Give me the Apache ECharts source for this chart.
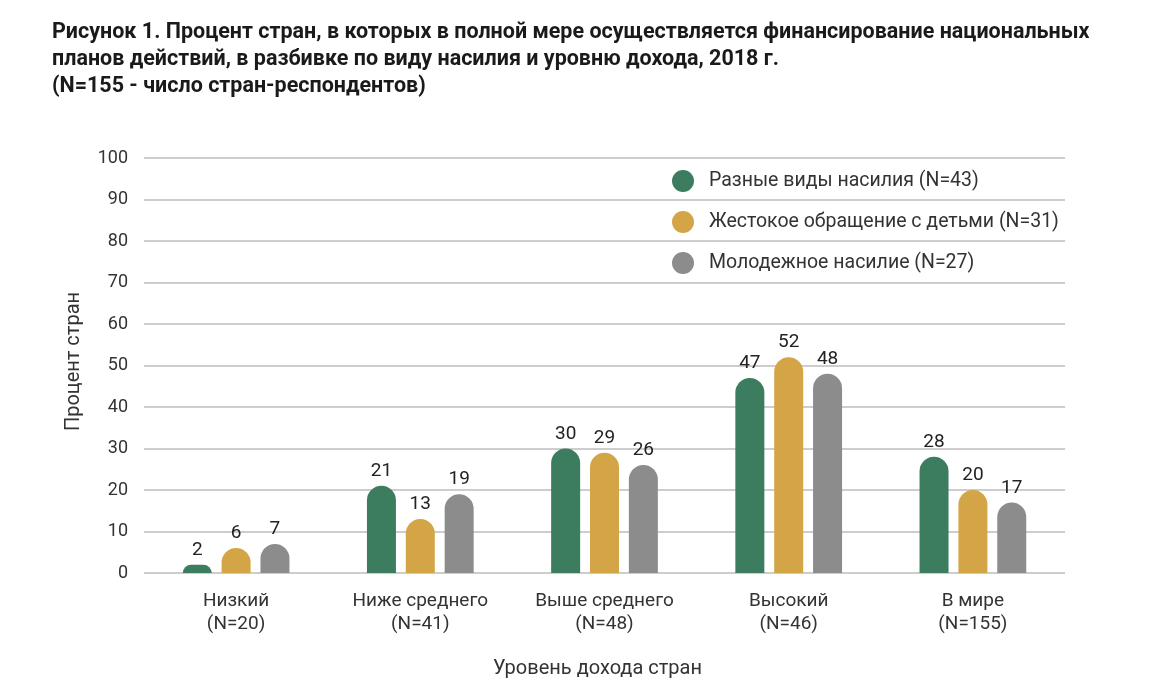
<!DOCTYPE html>
<html><head><meta charset="utf-8">
<script src="https://cdn.jsdelivr.net/npm/echarts@6/dist/echarts.min.js"></script>
<style>html,body{margin:0;padding:0;background:#fff}#c{width:1154px;height:692px}</style>
</head><body><div id="c"></div>
<script>
const categories = ['Низкий\n(N=20)', 'Ниже среднего\n(N=41)', 'Выше среднего\n(N=48)', 'Высокий\n(N=46)', 'В мире\n(N=155)'];
const seriesNames = ['Разные виды насилия (N=43)', 'Жестокое обращение с детьми (N=31)', 'Молодежное насилие (N=27)'];
const mixedViolence = [2, 21, 30, 47, 28];
const childMaltreatment = [6, 13, 29, 52, 20];
const youthViolence = [7, 19, 26, 48, 17];
const colors = ['#3d7d5f', '#d4a546', '#8c8c8c'];
const FONT = 'Roboto';
const chart = echarts.init(document.getElementById('c'));
const mk = (name, data, color) => ({
  name, type: 'bar', data, barWidth: 29, barGap: '34%',
  itemStyle: { color, borderRadius: [14.5, 14.5, 0, 0] },
  label: { show: true, position: 'top', distance: 5, fontFamily: FONT, fontSize: 19, color: '#222' }
});
chart.setOption({
  animation: false,
  textStyle: { fontFamily: FONT },
  title: {
    text: 'Рисунок 1. Процент стран, в которых в полной мере осуществляется финансирование национальных\nпланов действий, в разбивке по виду насилия и уровню дохода, 2018 г.\n(N=155 - число стран-респондентов)',
    left: 47, top: 14,
    textStyle: { fontFamily: FONT, fontSize: 21.5, fontWeight: 'bold', color: '#1a1a1a', lineHeight: 27 }
  },
  legend: {
    orient: 'vertical', left: 667, top: 165, itemGap: 19, itemWidth: 22, itemHeight: 22,
    icon: 'circle',
    textStyle: { fontFamily: FONT, fontSize: 19.5, lineHeight: 22, color: '#333', padding: [0, 0, 0, 10] },
    data: seriesNames
  },
  grid: { left: 144, right: 89, top: 158, bottom: 119 },
  xAxis: {
    type: 'category', data: categories,
    axisLine: { show: false }, axisTick: { show: false },
    axisLabel: { interval: 0, hideOverlap: false, fontFamily: FONT, fontSize: 19, color: '#333', lineHeight: 23, margin: 17 },
    name: 'Уровень дохода стран', nameLocation: 'middle', nameGap: 86,
    nameTextStyle: { fontFamily: FONT, fontSize: 20, color: '#333', padding: [0, 14, 0, 0] }
  },
  yAxis: {
    type: 'value', min: 0, max: 100, interval: 10,
    axisLine: { show: false }, axisTick: { show: false },
    axisLabel: { fontFamily: FONT, fontSize: 18, color: '#333', margin: 16 },
    splitLine: { lineStyle: { color: '#bdbdbd', width: 1.5 } },
    name: 'Процент стран', nameLocation: 'middle', nameGap: 60, nameRotate: 90,
    nameTextStyle: { fontFamily: FONT, fontSize: 20, color: '#333', padding: [0, 0, 0, 8] }
  },
  series: [
    mk(seriesNames[0], mixedViolence, colors[0]),
    mk(seriesNames[1], childMaltreatment, colors[1]),
    mk(seriesNames[2], youthViolence, colors[2])
  ]
});
</script></body></html>
